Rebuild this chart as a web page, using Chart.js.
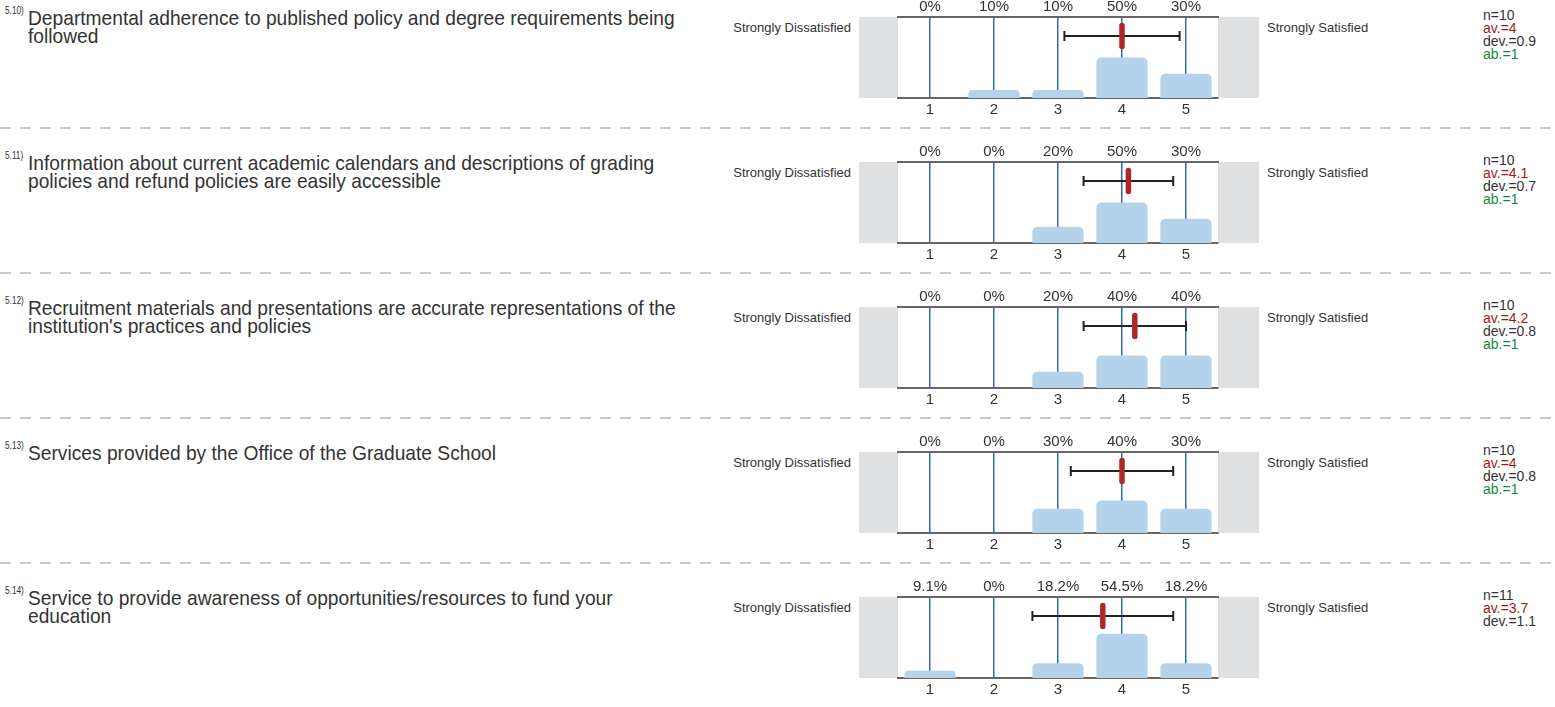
<!DOCTYPE html>
<html>
<head>
<meta charset="utf-8">
<script src="https://cdn.jsdelivr.net/npm/chart.js@4/dist/chart.umd.min.js"></script>
<style>
  body { margin: 0; background: #fff; font-family: "Liberation Sans", Arial, sans-serif; color: #333; }
  #page { position: relative; width: 1555px; height: 707px; overflow: hidden; }
  .qnum { position: absolute; left: 5px; font-size: 11px; transform: scaleX(0.75); transform-origin: left top; }
  .qtext { position: absolute; left: 28px; width: 722px; font-size: 21px; line-height: 18px;
           transform: scaleX(0.914); transform-origin: left top; }
  .lbl { position: absolute; font-size: 13px; }
  .stats { position: absolute; left: 1483px; font-size: 14px; line-height: 13px; }
  .sep { position: absolute; left: 0; width: 1555px; height: 2px;
         background: repeating-linear-gradient(to right, #c8c8c8 0 11px, transparent 11px 20px); }
  .box { position: absolute; left: 859px; width: 400px; height: 122px; }
</style>
</head>
<body>
<div id="page"></div>
<script>
// data
var qIds = ['5.10)', '5.11)', '5.12)', '5.13)', '5.14)'];
var questions = [
  'Departmental adherence to published policy and degree requirements being followed',
  'Information about current academic calendars and descriptions of grading policies and refund policies are easily accessible',
  'Recruitment materials and presentations are accurate representations of the institution\'s practices and policies',
  'Services provided by the Office of the Graduate School',
  'Service to provide awareness of opportunities/resources to fund your education'
];
var scaleLabels = ['1', '2', '3', '4', '5'];
var pct1 = [0, 10, 10, 50, 30];
var pct2 = [0, 0, 20, 50, 30];
var pct3 = [0, 0, 20, 40, 40];
var pct4 = [0, 0, 30, 40, 30];
var pct5 = [9.1, 0, 18.2, 54.5, 18.2];
var nVals = [10, 10, 10, 10, 11];
var avVals = [4, 4.1, 4.2, 4, 3.7];
var devVals = [0.9, 0.7, 0.8, 0.8, 1.1];
var abVals = [1, 1, 1, 1, null];
var allPct = [pct1, pct2, pct3, pct4, pct5];

var page = document.getElementById('page');
var ROW = 145;

// gray side boxes + mean / deviation marker
var surveyPlugin = {
  id: 'survey',
  beforeDraw: function (chart) {
    var c = chart.ctx, a = chart.chartArea;
    c.save();
    c.fillStyle = '#dfe0e2';
    c.fillRect(0, a.top, a.left, a.bottom - a.top);
    c.fillRect(a.right, a.top, chart.width - a.right, a.bottom - a.top);
    c.restore();
  },
  afterDraw: function (chart) {
    var o = chart.options.plugins.survey;
    var xs = chart.scales.x, ys = chart.scales.y;
    var c = chart.ctx;
    var y = ys.getPixelForValue(76.5);
    var x1 = xs.getPixelForValue(o.mean - o.dev - 1);
    var x2 = xs.getPixelForValue(o.mean + o.dev - 1);
    var xm = xs.getPixelForValue(o.mean - 1);
    c.save();
    c.strokeStyle = '#222';
    c.lineWidth = 2;
    c.beginPath();
    c.moveTo(x1, y); c.lineTo(x2, y);
    c.moveTo(x1, y - 5); c.lineTo(x1, y + 5);
    c.moveTo(x2, y - 5); c.lineTo(x2, y + 5);
    c.stroke();
    c.strokeStyle = '#ae2828';
    c.lineWidth = 5.5;
    c.lineCap = 'round';
    c.beginPath();
    c.moveTo(xm, y - 10.5); c.lineTo(xm, y + 10.5);
    c.stroke();
    c.restore();
  }
};

questions.forEach(function (q, i) {
  var top = i * ROW;
  var html = '';
  html += '<div class="qnum" style="top:' + (top + 4) + 'px">' + qIds[i] + '</div>';
  html += '<div class="qtext" style="top:' + (top + 9) + 'px">' + q + '</div>';
  html += '<div class="lbl" style="top:' + (top + 20) + 'px; right:' + (1555 - 851) + 'px">Strongly Dissatisfied</div>';
  html += '<div class="lbl" style="top:' + (top + 20) + 'px; left:1267px">Strongly Satisfied</div>';
  var st = '<div>n=' + nVals[i] + '</div>' +
    '<div style="color:#9b1c1c">av.=' + avVals[i] + '</div>' +
    '<div>dev.=' + devVals[i] + '</div>';
  if (abVals[i] !== null) st += '<div style="color:#16873a">ab.=' + abVals[i] + '</div>';
  html += '<div class="stats" style="top:' + (top + 9) + 'px">' + st + '</div>';
  if (i < questions.length - 1) html += '<div class="sep" style="top:' + (top + 127) + 'px"></div>';
  html += '<div class="box" style="top:' + top + 'px"><canvas id="c' + i + '"></canvas></div>';
  page.insertAdjacentHTML('beforeend', html);
});

questions.forEach(function (q, i) {
  var vals = allPct[i];
  new Chart(document.getElementById('c' + i), {
    type: 'bar',
    data: {
      labels: scaleLabels,
      datasets: [{
        data: vals,
        backgroundColor: '#b4d3ea',
        borderRadius: { topLeft: 5, topRight: 5 },
        borderSkipped: 'bottom',
        categoryPercentage: 0.8,
        barPercentage: 1
      }]
    },
    options: {
      responsive: true,
      maintainAspectRatio: false,
      animation: false,
      layout: { padding: { left: 39, right: 41, top: 0, bottom: 0 } },
      plugins: {
        legend: { display: false },
        tooltip: { enabled: false },
        survey: { mean: avVals[i], dev: devVals[i] }
      },
      scales: {
        x: {
          position: 'bottom',
          z: 1,
          offset: true,
          grid: { offset: false, color: '#2d6bb0', lineWidth: 1.5, drawTicks: false },
          border: { color: '#666', width: 2 },
          ticks: { color: '#333', font: { family: 'Liberation Sans', size: 15 }, padding: 3 },
          afterFit: function (s) { s.height = 24; }
        },
        x2: {
          type: 'category',
          position: 'top',
          offset: true,
          labels: vals.map(function (v) { return v + '%'; }),
          grid: { display: false, drawTicks: false },
          border: { color: '#666', width: 2 },
          ticks: { color: '#333', font: { family: 'Liberation Sans', size: 15 }, padding: 1 },
          afterFit: function (s) { s.height = 17; }
        },
        y: { display: false, min: 0, max: 100 }
      }
    },
    plugins: [surveyPlugin]
  });
});
</script>
</body>
</html>
